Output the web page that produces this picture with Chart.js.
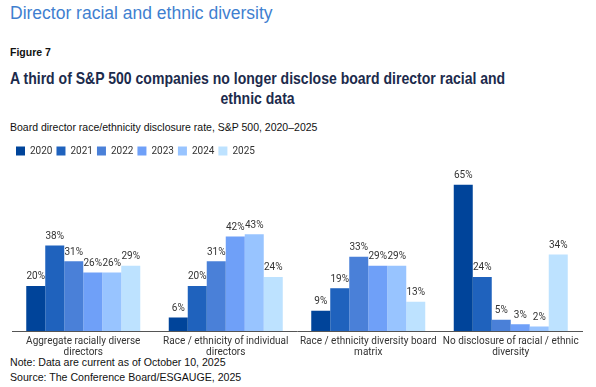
<!DOCTYPE html>
<html>
<head>
<meta charset="utf-8">
<script src="https://cdn.jsdelivr.net/npm/chart.js@4/dist/chart.umd.min.js"></script>
<style>
  body { margin: 0; width: 596px; height: 387px; background: #fff; position: relative; overflow: hidden;
         font-family: "Liberation Sans", Arial, sans-serif; }
  .t { position: absolute; left: 10px; white-space: nowrap; }
  #sec { top: 2px; font-size: 17.5px; line-height: 22px; color: #3f7fd0; }
  #fig { top: 45px; font-size: 10.5px; line-height: 14px; font-weight: bold; color: #111; }
  #title { top: 68px; font-size: 16.5px; line-height: 20px; font-weight: bold; color: #1c2b4c;
           display: inline-block; text-align: center; transform-origin: 0 0; }
  #sub { top: 120px; font-size: 10.5px; line-height: 14px; color: #111; }
  #note { top: 355px; font-size: 10.6px; line-height: 15px; color: #111; }
  #wrap { position: absolute; left: 0; top: 140px; width: 596px; height: 223px; }
</style>
</head>
<body>
<div class="t" id="sec">Director racial and ethnic diversity</div>
<div class="t" id="fig">Figure 7</div>
<div class="t" id="title">A third of S&amp;P 500 companies no longer disclose board director racial and<br>ethnic data</div>
<div class="t" id="sub">Board director race/ethnicity disclosure rate, S&amp;P 500, 2020–2025</div>
<div class="t" id="note">Note: Data are current as of October 10, 2025<br>Source: The Conference Board/ESGAUGE, 2025</div>
<div id="wrap"><canvas id="chart"></canvas></div>
<script>
const categories = [
  ["Aggregate racially diverse", "directors"],
  ["Race / ethnicity of individual", "directors"],
  ["Race / ethnicity diversity board", "matrix"],
  ["No disclosure of racial / ethnic", "diversity"]
];
const years = ["2020", "2021", "2022", "2023", "2024", "2025"];
const v2020 = [20, 6, 9, 65];
const v2021 = [38, 20, 19, 24];
const v2022 = [31, 31, 33, 5];
const v2023 = [26, 42, 29, 3];
const v2024 = [26, 43, 29, 2];
const v2025 = [29, 24, 13, 34];
const colors = ["#00449a", "#1f62bd", "#4a80d8", "#6fa0f8", "#98c4ff", "#bde2ff"];

const series = [v2020, v2021, v2022, v2023, v2024, v2025];

// el título del original es más estrecho: ajustar a 495px
const title = document.getElementById("title");
title.style.transform = "scaleX(" + (495 / title.offsetWidth) + ")";

// etiquetas de valor encima de cada barra
const valueLabels = {
  id: "valueLabels",
  afterDatasetsDraw(chart) {
    const ctx = chart.ctx;
    ctx.save();
    ctx.font = "10px Roboto, 'Liberation Sans', sans-serif";
    ctx.fillStyle = "#333";
    ctx.textAlign = "center";
    ctx.textBaseline = "bottom";
    chart.data.datasets.forEach((ds, i) => {
      chart.getDatasetMeta(i).data.forEach((bar, j) => {
        ctx.fillText(ds.data[j] + "%", bar.x, bar.y - 4);
      });
    });
    ctx.restore();
  }
};

new Chart(document.getElementById("chart"), {
  type: "bar",
  data: {
    labels: categories,
    datasets: years.map((y, i) => ({
      label: y,
      data: series[i],
      backgroundColor: colors[i],
      borderWidth: 0
    }))
  },
  options: {
    responsive: true,
    maintainAspectRatio: false,
    animation: false,
    categoryPercentage: 0.8,
    barPercentage: 1.0,
    layout: { padding: { left: 12, right: 14, top: 2, bottom: 0 } },
    plugins: {
      legend: {
        position: "top",
        align: "start",
        labels: {
          boxWidth: 9,
          boxHeight: 9,
          padding: 4,
          color: "#333",
          font: { size: 10, family: "Roboto, 'Liberation Sans', sans-serif" }
        }
      },
      tooltip: { enabled: false }
    },
    scales: {
      x: {
        grid: { display: false, drawTicks: false },
        border: { display: true, color: "#555", width: 1 },
        ticks: {
          color: "#333",
          padding: 5,
          maxRotation: 0,
          autoSkip: false,
          font: { size: 10, family: "Roboto, 'Liberation Sans', sans-serif", lineHeight: 1.1 }
        }
      },
      y: { display: false, min: 0, max: 73.3 }
    }
  },
  plugins: [valueLabels]
});
</script>
</body>
</html>
